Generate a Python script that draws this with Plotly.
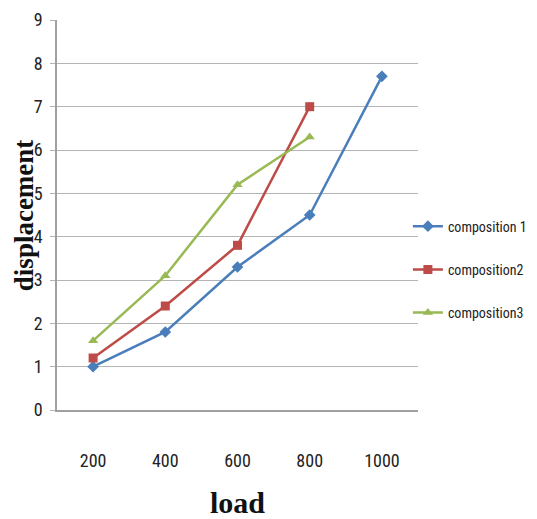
import plotly.graph_objects as go

loads = ["200", "400", "600", "800", "1000"]
comp1 = [1.0, 1.8, 3.3, 4.5, 7.7]
comp2 = [1.2, 2.4, 3.8, 7.0]
comp3 = [1.6, 3.1, 5.2, 6.3]
names = ["composition 1", "composition2", "composition3"]
colors = ["#4A7EBB", "#BE4B48", "#98B954"]
symbols = ["diamond", "square", "triangle-up"]

narrow = "Liberation Sans Narrow, Roboto Condensed, Liberation Sans, Arial"
tick_font = dict(family=narrow, size=18, color="#222")
serif = "Liberation Serif, Times New Roman, serif"

fig = go.Figure()
for i, (vals, name) in enumerate(zip([comp1, comp2, comp3], names)):
    fig.add_trace(go.Scatter(
        x=loads[:len(vals)], y=vals, name=name, mode="lines+markers",
        line=dict(color=colors[i], width=2.5),
        marker=dict(symbol=symbols[i], size=9, color=colors[i]),
        legendgroup=name,
    ))

fig.update_layout(
    width=529, height=511,
    margin=dict(l=49, r=119, t=12, b=109, autoexpand=False),
    plot_bgcolor="white", paper_bgcolor="white",
    showlegend=True,
    legend=dict(x=0.972, y=0.36, yanchor="middle", xanchor="left",
                font=dict(family=narrow, size=14, color="#222"),
                tracegroupgap=22, itemwidth=30, bgcolor="rgba(0,0,0,0)"),
    xaxis=dict(type="category", categoryorder="array", categoryarray=loads,
               range=[-0.5, 4.5], showgrid=False, showline=True, linecolor="#A0A0A0", linewidth=1.5,
               ticks="", tickfont=tick_font, ticklabelstandoff=34, automargin=False,
               title=dict(text="<b>load</b>", font=dict(family=serif, size=30, color="#111"), standoff=22)),
    yaxis=dict(range=[0, 9], dtick=1, showgrid=True, gridcolor="#B4B4B4", gridwidth=1.2,
               showline=True, linecolor="#A0A0A0", linewidth=1.5, zeroline=False,
               ticks="outside", ticklen=5, tickcolor="#B4B4B4", tickfont=tick_font,
               ticklabelstandoff=4, automargin=False),
    annotations=[dict(text="<b>displacement</b>", xref="paper", yref="paper",
                      x=-0.091, y=0.5, xanchor="center", yanchor="middle",
                      textangle=-90, showarrow=False, borderpad=0,
                      font=dict(family=serif, size=27, color="#111"))],
)

fig.write_html("out.html")
